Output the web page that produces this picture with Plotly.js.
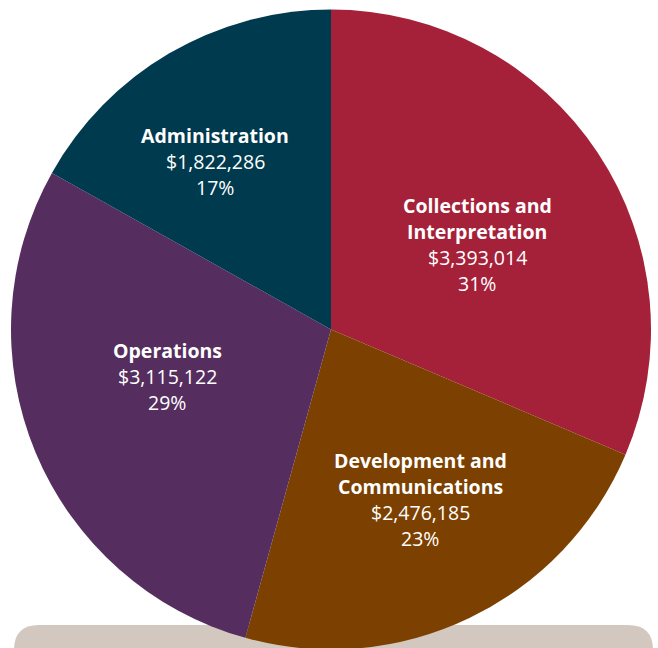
<!DOCTYPE html>
<html>
<head>
<meta charset="utf-8">
<script src="https://cdn.plot.ly/plotly-3.0.1.min.js"></script>
<style>html,body{margin:0;padding:0;background:#fff;overflow:hidden}</style>
</head>
<body>
<div id="chart"></div>
<script>
const categories = ["Collections and\nInterpretation", "Development and\nCommunications", "Operations", "Administration"];
const amounts = [3393014, 2476185, 3115122, 1822286];
const percentLabels = ["31%", "23%", "29%", "17%"];
const colors = ["#a52139", "#7c4000", "#552d5e", "#003a4e"];

const W = 658, H = 650;
// label block: centre x and centre y of first line, in pixels (layout only)
const labelPos = [[477, 205], [420, 460], [167, 350], [215, 135]];
const lineStep = 26.3;

function fmt(v){ return "$" + v.toLocaleString("en-US"); }

const trace = {
  type: "pie",
  values: amounts,
  labels: categories.map(c => c.replace("\n", " ")),
  marker: {colors: colors, line: {width: 0}},
  sort: false,
  direction: "clockwise",
  rotation: 0,
  textinfo: "none",
  hoverinfo: "none",
  showlegend: false,
  domain: {x: [11 / W, 651 / W], y: [0, (H - 9) / H]}
};

const annotations = [];
categories.forEach((c, i) => {
  const lines = c.split("\n").map(t => ({t: t, bold: true}))
    .concat([{t: fmt(amounts[i]), bold: false}, {t: percentLabels[i], bold: false}]);
  lines.forEach((ln, k) => {
    annotations.push({
      xref: "paper", yref: "paper",
      x: labelPos[i][0] / W, y: 1 - (labelPos[i][1] + k * lineStep) / H,
      xanchor: "center", yanchor: "middle",
      showarrow: false,
      text: ln.bold ? "<b>" + ln.t + "</b>" : ln.t,
      font: {family: "'Open Sans', sans-serif", size: 19.5, color: "#ffffff"}
    });
  });
});

const x0 = 14 / W, x1 = 653 / W, yt = 1 - 625 / H, rx = 25 / W, ry = 25 / H;
const bgPath = `M ${x0} 0 L ${x0} ${yt - ry} Q ${x0} ${yt} ${x0 + rx} ${yt} L ${x1 - rx} ${yt} Q ${x1} ${yt} ${x1} ${yt - ry} L ${x1} 0 Z`;

const layout = {
  width: W, height: H,
  margin: {l: 0, r: 0, t: 0, b: 0},
  paper_bgcolor: "#ffffff",
  showlegend: false,
  annotations: annotations,
  shapes: [{type: "path", xref: "paper", yref: "paper", path: bgPath,
            fillcolor: "#d2c8bf", line: {width: 0}, layer: "below"}]
};

Plotly.newPlot("chart", [trace], layout, {displayModeBar: false, staticPlot: true});
</script>
</body>
</html>
